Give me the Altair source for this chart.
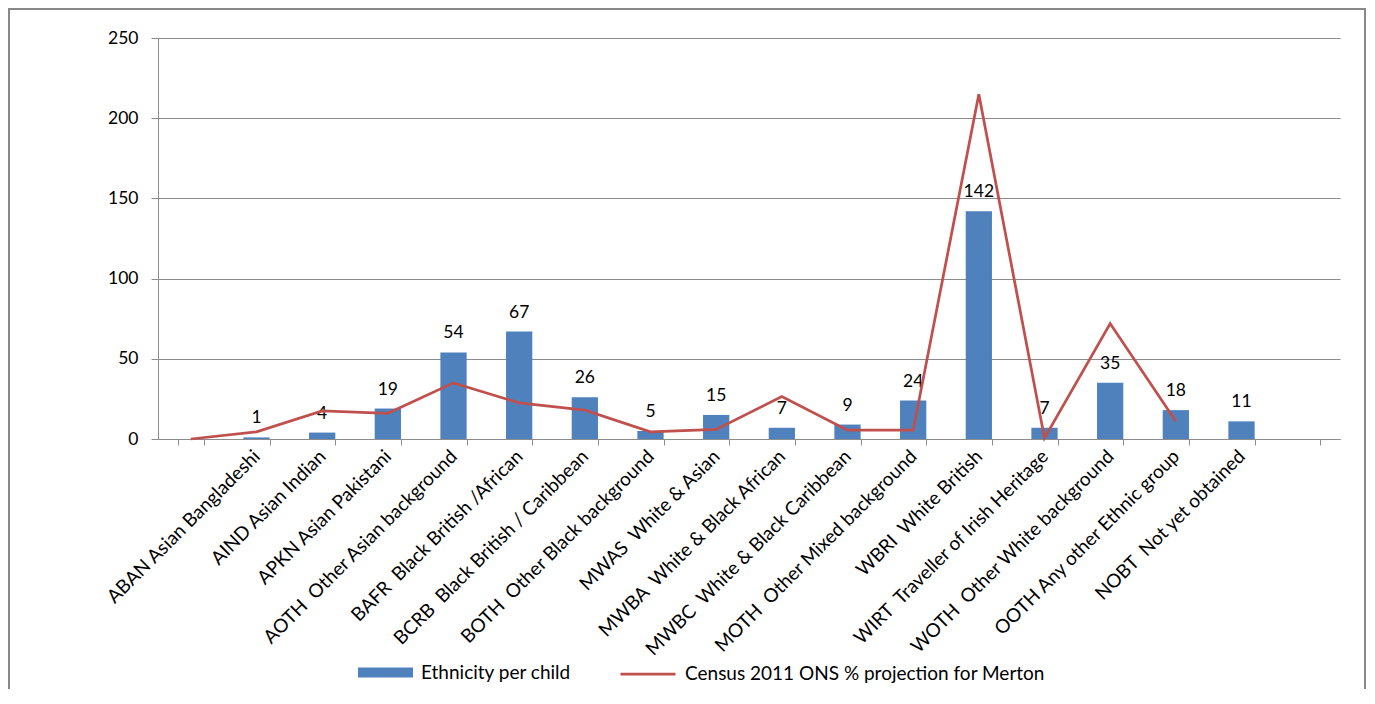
import altair as alt
import pandas as pd

# Category slots on the x axis (first and last slots are empty in the source chart)
slots = [
    " ",
    "ABAN Asian Bangladeshi",
    "AIND Asian Indian",
    "APKN Asian Pakistani",
    "AOTH  Other Asian background",
    "BAFR  Black British /African",
    "BCRB  Black British / Caribbean",
    "BOTH  Other Black background",
    "MWAS  White & Asian",
    "MWBA  White & Black African",
    "MWBC  White & Black Caribbean",
    "MOTH  Other Mixed background",
    "WBRI  White British",
    "WIRT  Traveller of Irish Heritage",
    "WOTH  Other White background",
    "OOTH Any other Ethnic group",
    "NOBT  Not yet obtained",
    "  ",
]
categories = slots[1:17]

# Ethnicity per child (bars)
bar_values = [1, 4, 19, 54, 67, 26, 5, 15, 7, 9, 24, 142, 7, 35, 18, 11]

# Census 2011 ONS % projection for Merton (line) - plotted one slot to the left, as in the source
line_slots = slots[0:16]
line_values = [0, 4.5, 17.5, 16, 35, 22.5, 18, 4.5, 6, 26.5, 5.5, 5.5, 215, 0.5, 72, 11]

bar_name = "Ethnicity per child"
line_name = "Census 2011 ONS % projection for Merton"

FONT = "Lato"
GRID = "#8C8C8C"

bars_df = pd.DataFrame({"cat": categories, "value": bar_values, "series": bar_name})
line_df = pd.DataFrame({"cat": line_slots, "value": line_values, "series": line_name})

xscale = alt.Scale(domain=slots, paddingInner=0.6, paddingOuter=0.3)
yscale = alt.Scale(domain=[0, 250])

xaxis = alt.Axis(
    title=None,
    labelAngle=-45,
    labelAlign="right",
    labelBaseline="middle",
    labelExpr="replace(datum.label, '  ', ' \u00a0')",
    labelFont=FONT,
    labelFontSize=19,
    labelColor="#000000",
    labelPadding=8,
    tickBand="extent",
    tickSize=6,
    tickColor=GRID,
    domainColor=GRID,
    grid=False,
    labelLimit=400,
)
yaxis = alt.Axis(
    title=None,
    values=[0, 50, 100, 150, 200, 250],
    labelFont=FONT,
    labelFontSize=17.5,
    labelColor="#000000",
    labelPadding=13,
    tickSize=7,
    tickColor=GRID,
    domainColor=GRID,
    gridColor=GRID,
    grid=True,
)

border = alt.Chart(pd.DataFrame({"a": [0]})).mark_rect(
    fill="white", fillOpacity=0, stroke="#888888", strokeWidth=2
).encode(
    x=alt.value(-149), x2=alt.value(1207), y=alt.value(-29), y2=alt.value(760)
)

bars = alt.Chart(bars_df).mark_bar().encode(
    x=alt.X("cat:N", scale=xscale, axis=xaxis),
    y=alt.Y("value:Q", scale=yscale, axis=yaxis),
    fill=alt.Fill(
        "series:N",
        scale=alt.Scale(domain=[bar_name], range=["#4F81BD"]),
        legend=alt.Legend(
            title=None,
            orient="none",
            legendX=200,
            legendY=607,
            padding=0,
            symbolType="M-1,-0.18H1V0.18H-1Z",
            symbolSize=3025,
            symbolStrokeWidth=0,
            labelFont=FONT,
            labelFontSize=19,
            labelColor="#000000",
            labelOffset=8,
            labelLimit=600,
        ),
    ),
)

labels = alt.Chart(bars_df).mark_text(
    font=FONT, fontSize=17.5, color="#000000", baseline="alphabetic", dy=-14
).encode(
    x=alt.X("cat:N", scale=xscale),
    y=alt.Y("value:Q", scale=yscale),
    text=alt.Text("value:Q"),
)

line = alt.Chart(line_df).mark_line(strokeWidth=2.75).encode(
    x=alt.X("cat:N", scale=xscale),
    y=alt.Y("value:Q", scale=yscale),
    stroke=alt.Stroke(
        "series:N",
        scale=alt.Scale(domain=[line_name], range=["#C0504D"]),
        legend=alt.Legend(
            title=None,
            orient="none",
            legendX=461,
            legendY=607,
            padding=0,
            symbolType="stroke",
            symbolSize=3025,
            symbolStrokeWidth=2.75,
            labelFont=FONT,
            labelFontSize=19,
            labelColor="#000000",
            labelOffset=8,
            labelLimit=600,
        ),
    ),
)

chart = alt.layer(border, bars, labels, line).properties(
    width=1182,
    height=401,
    autosize=alt.AutoSizeParams(type="none"),
    padding={"left": 150, "top": 30, "right": 27, "bottom": 250},
    background="white",
).configure_view(stroke=None).resolve_scale(fill="independent", stroke="independent")

chart.save("out.html", embed_options={"renderer": "svg", "actions": False})
